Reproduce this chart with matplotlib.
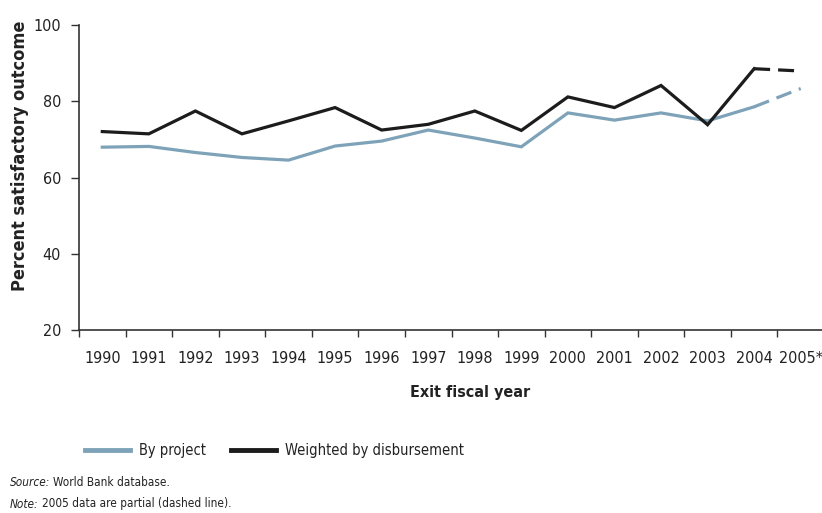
import matplotlib
matplotlib.use("Agg")
import matplotlib.pyplot as plt
from matplotlib.lines import Line2D

plt.rcParams['font.family'] = ['DejaVu Sans Condensed', 'Liberation Sans Narrow', 'DejaVu Sans']
plt.rcParams['font.stretch'] = 'condensed'

years = ['1990', '1991', '1992', '1993', '1994', '1995', '1996', '1997',
         '1998', '1999', '2000', '2001', '2002', '2003', '2004', '2005*']
by_project = [68.0, 68.2, 66.6, 65.3, 64.6, 68.3, 69.6, 72.5,
              70.4, 68.1, 77.0, 75.1, 77.0, 74.9, 78.6, 83.4]
weighted = [72.1, 71.5, 77.5, 71.5, 74.9, 78.4, 72.5, 74.0,
            77.5, 72.4, 81.2, 78.4, 84.2, 73.9, 88.6, 88.0]

blue = '#7ea3b9'
black = '#1c1c1c'

fig = plt.figure(figsize=(8.22, 5.13), dpi=100)
ax = fig.add_axes([79 / 822, 1 - 330 / 513, 745 / 822, (330 - 25.3) / 513])

x = list(range(len(years)))
# solid part up to 2004, dashed 2004 -> 2005 (partial data)
ax.plot(x[:15], by_project[:15], color=blue, lw=2.3, solid_joinstyle='miter')
ax.plot(x[14:], by_project[14:], color=blue, lw=2.3, dashes=(5, 2.5))
ax.plot(x[:15], weighted[:15], color=black, lw=2.3, solid_joinstyle='miter')
ax.plot(x[14:], weighted[14:], color=black, lw=2.3, dashes=(5, 2.5))

ax.set_xlim(-0.5, 15.5)
ax.set_ylim(20, 100)
ax.set_yticks([20, 40, 60, 80, 100])
ax.set_xticks(x)
ax.set_xticklabels(years)
ax.set_xticks([i - 0.5 for i in range(len(years))], minor=True)
ax.tick_params(axis='x', which='major', length=0, pad=15, labelsize=11.5, colors='#222222')
ax.tick_params(axis='x', which='minor', length=5, width=1, color='#333333')
ax.tick_params(axis='y', length=6, width=1, pad=7, labelsize=11.5, colors='#222222')
ax.tick_params(axis='y', color='#333333')

for s in ['top', 'right']:
    ax.spines[s].set_visible(False)
for s in ['left', 'bottom']:
    ax.spines[s].set_color('#333333')
    ax.spines[s].set_linewidth(1.2)

fig.text(20 / 822, 1 - 156 / 513, 'Percent satisfactory outcome', rotation=90,
         ha='center', va='center', fontsize=13, fontweight='bold', color='#222222')
fig.text(470 / 822, 1 - 393 / 513, 'Exit fiscal year', ha='center', va='center',
         fontsize=11.5, fontweight='bold', color='#222222')

handles = [Line2D([], [], color=blue, lw=3.5), Line2D([], [], color=black, lw=3.5)]
fig.legend(handles, ['By project', 'Weighted by disbursement'], ncol=2,
           loc='center left', bbox_to_anchor=(72 / 822, 1 - 451 / 513), frameon=False,
           fontsize=10.5, handlelength=3.1, handletextpad=0.6, columnspacing=1.7,
           labelcolor='#222222')

# italic lead word followed by plain text
renderer = fig.canvas.get_renderer()
for lead, rest, ypix in [('Source:', 'World Bank database.', 482),
                         ('Note:', '2005 data are partial (dashed line).', 504)]:
    t = fig.text(10 / 822, 1 - ypix / 513, lead, fontsize=8.5, style='italic',
                 va='center', color='#222222')
    w = t.get_window_extent(renderer).width
    fig.text((10 + w + 3) / 822, 1 - ypix / 513, rest, fontsize=8.5, va='center',
             color='#222222')

fig.savefig('out.png', dpi=100)
